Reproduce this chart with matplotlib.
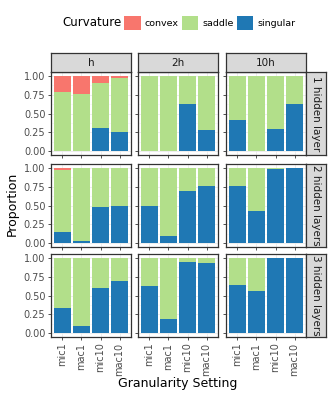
import numpy as np
import matplotlib.pyplot as plt
from matplotlib.patches import Patch

# categorias e facetas
settings = ['mic1', 'mac1', 'mic10', 'mac10']
widths = ['h', '2h', '10h']
layers = ['1 hidden layer', '2 hidden layers', '3 hidden layers']

# proporção "singular" [camada][largura][setting]
singular = np.array([
    [[0.00, 0.00, 0.31, 0.25], [0.00, 0.00, 0.63, 0.28], [0.41, 0.00, 0.30, 0.62]],
    [[0.15, 0.03, 0.48, 0.50], [0.49, 0.10, 0.69, 0.76], [0.76, 0.43, 0.98, 1.00]],
    [[0.34, 0.09, 0.60, 0.69], [0.63, 0.19, 0.94, 0.93], [0.64, 0.56, 1.00, 1.00]],
])
# proporção "convex"
convex = np.array([
    [[0.22, 0.235, 0.09, 0.035], [0.005, 0.003, 0.0, 0.0], [0.0, 0.0, 0.0, 0.0]],
    [[0.025, 0.006, 0.0, 0.0], [0.0, 0.0, 0.0, 0.0], [0.0, 0.0, 0.0, 0.0]],
    [[0.0, 0.0, 0.0, 0.0], [0.0, 0.0, 0.0, 0.0], [0.0, 0.0, 0.0, 0.0]],
])
# saddle = resto
saddle = 1.0 - singular - convex

cores = {'convex': '#F8766D', 'saddle': '#B2DF8A', 'singular': '#1F78B4'}

W, H = 332, 399
fig = plt.figure(figsize=(W / 100, H / 100), dpi=100)

# posições dos painéis em pixels
col_x = [51, 138, 226]
pw = 80
row_y = [72, 164, 254]
ph = 83

x = np.arange(len(settings))
for i in range(3):
    for j in range(3):
        ax = fig.add_axes([col_x[j] / W, 1 - (row_y[i] + ph) / H, pw / W, ph / H])
        ax.set_axisbelow(True)
        ax.bar(x, singular[i, j], width=0.9, color=cores['singular'], linewidth=0)
        ax.bar(x, saddle[i, j], width=0.9, bottom=singular[i, j],
               color=cores['saddle'], linewidth=0)
        ax.bar(x, convex[i, j], width=0.9, bottom=singular[i, j] + saddle[i, j],
               color=cores['convex'], linewidth=0)
        ax.set_xlim(-0.6, 3.6)
        ax.set_ylim(-0.05, 1.05)
        ax.set_yticks([0, 0.25, 0.5, 0.75, 1.0])
        ax.set_yticks([0.125, 0.375, 0.625, 0.875], minor=True)
        ax.set_xticks(x)
        ax.grid(True, which='major', color='#EBEBEB', linewidth=0.6)
        ax.grid(True, which='minor', axis='y', color='#F4F4F4', linewidth=0.4)
        for s in ax.spines.values():
            s.set_color('#333333')
            s.set_linewidth(0.9)
        ax.tick_params(which='major', length=2.5, width=0.6, color='#333333',
                       labelsize=7, labelcolor='#4D4D4D', pad=1.5)
        ax.tick_params(which='minor', length=0)
        if j == 0:
            ax.set_yticklabels(['0.00', '0.25', '0.50', '0.75', '1.00'])
        else:
            ax.set_yticklabels([])
        if i == 2:
            ax.set_xticklabels(settings, rotation=90)
        else:
            ax.set_xticklabels([])

        # faixas (strips)
        if i == 0:
            sax = fig.add_axes([col_x[j] / W, 1 - row_y[i] / H, pw / W, 19 / H])
            sax.set_facecolor('#D9D9D9')
            sax.set_xticks([]); sax.set_yticks([])
            for s in sax.spines.values():
                s.set_color('#333333'); s.set_linewidth(0.9)
            sax.text(0.5, 0.5, widths[j], ha='center', va='center', fontsize=7.5,
                     color='#1A1A1A', transform=sax.transAxes)
        if j == 2:
            sax = fig.add_axes([(col_x[j] + pw) / W, 1 - (row_y[i] + ph) / H, 20 / W, ph / H])
            sax.set_facecolor('#D9D9D9')
            sax.set_xticks([]); sax.set_yticks([])
            for s in sax.spines.values():
                s.set_color('#333333'); s.set_linewidth(0.9)
            sax.text(0.5, 0.5, layers[i], ha='center', va='center', fontsize=7.5,
                     rotation=-90, color='#1A1A1A', transform=sax.transAxes)

fig.text(178 / W, 1 - 383 / H, 'Granularity Setting', ha='center', va='center', fontsize=9)
fig.text(12 / W, 1 - 204 / H, 'Proportion', ha='center', va='center', fontsize=9,
         rotation=90)

# legenda
fig.text(62 / W, 1 - 23 / H, 'Curvature', ha='left', va='center', fontsize=8.5)
handles = [Patch(facecolor=cores[k], edgecolor='none', label=k)
           for k in ['convex', 'saddle', 'singular']]
fig.legend(handles=handles, ncol=3, loc='center left',
           bbox_to_anchor=(124 / W, 1 - 23 / H), frameon=False, fontsize=6.8,
           handlelength=1.75, handleheight=1.75, handletextpad=0.45,
           columnspacing=0.3, borderpad=0, borderaxespad=0)

plt.savefig('out.png', dpi=100)
